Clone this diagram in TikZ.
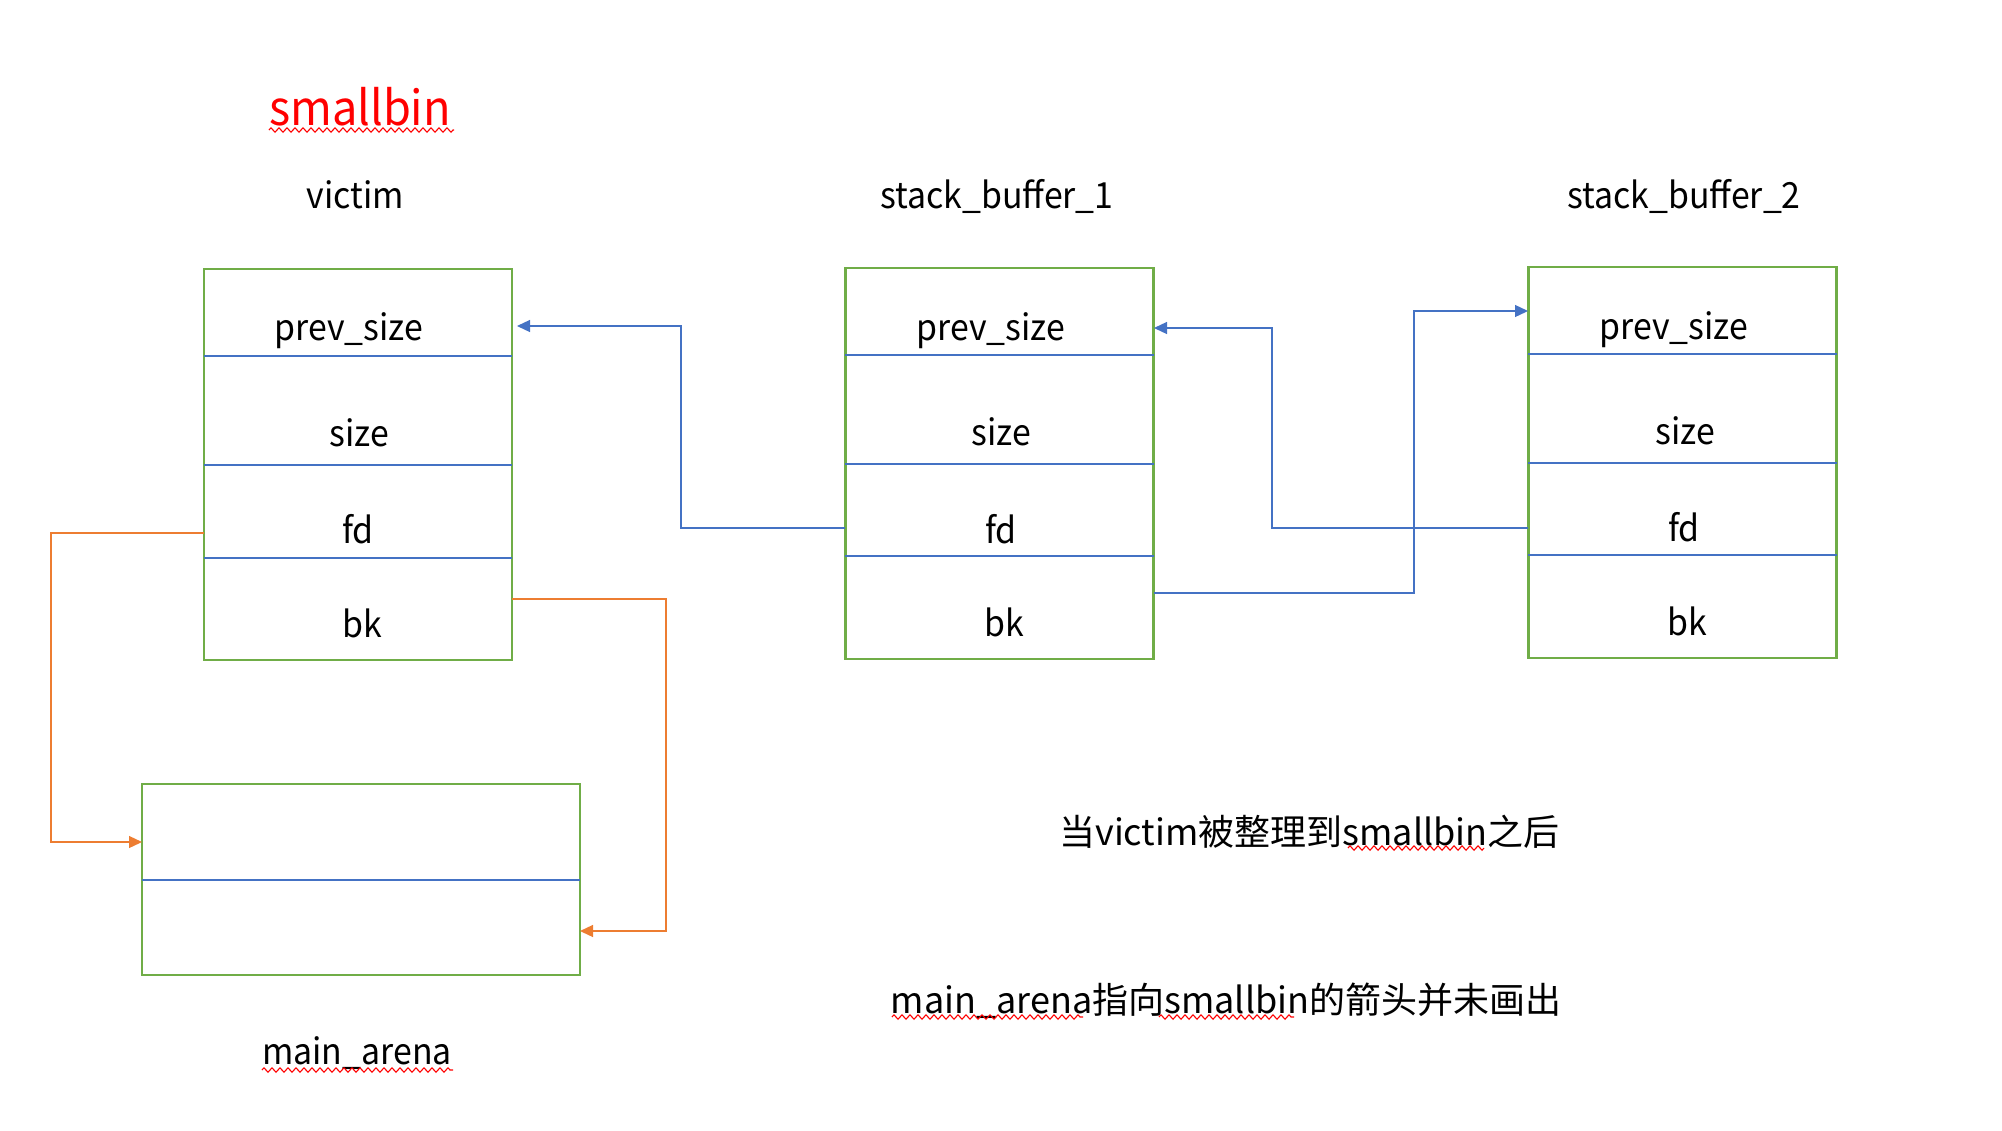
\documentclass[tikz,border=0pt]{standalone}
\usepackage{fontspec}
\setmainfont{Noto Sans CJK SC}
\newfontfamily\lblfont[FakeStretch=0.94]{Noto Sans CJK SC}
\usetikzlibrary{arrows.meta,decorations.pathmorphing}
\definecolor{boxgreen}{HTML}{70AD47}
\definecolor{lineblue}{HTML}{4472C4}
\definecolor{lineorange}{HTML}{ED7D31}
\tikzset{
  chunk/.style={draw=boxgreen, line width=2.5pt, inner sep=0pt, minimum width=308pt, minimum height=391pt},
  divider/.style={draw=lineblue, line width=1.3pt},
  field/.style={font=\lblfont\fontsize{36}{40}\selectfont, inner sep=0pt, anchor=base},
  note/.style={font=\fontsize{36}{40}\selectfont, inner sep=0pt, anchor=base},
  bluelink/.style={draw=lineblue, line width=1.3pt, -{Triangle[length=13pt,width=12pt]}},
  orangelink/.style={draw=lineorange, line width=1.3pt, -{Triangle[length=13pt,width=12pt]}},
  spell/.style={draw=red, line width=1.1pt, decorate, decoration={zigzag, amplitude=2.2pt, segment length=8pt}},
}
\begin{document}
\begin{tikzpicture}[x=1pt,y=-1pt]
\useasboundingbox (0,0) rectangle (2002,1130);

% titles
\node[field, text=red, font=\lblfont\fontsize{48}{54}\selectfont] (title) at (360,125) {smallbin};
\node[field] (tv) at (355.5,208) {victim};
\node[field] (ts1) at (997,208) {stack\_buffer\_1};
\node[field] (ts2) at (1684,208) {stack\_buffer\_2};

% chunks
\node[chunk] (v) at (358,464.5) {};
\node[chunk] (s1) at (999.5,463.5) {};
\node[chunk] (s2) at (1682.5,462.5) {};
\node[chunk, minimum width=438pt, minimum height=191pt] (m) at (361,879.5) {};

% dividers
\draw[divider] (204,356) -- (512,356);
\draw[divider] (204,465) -- (512,465);
\draw[divider] (204,558) -- (512,558);
\draw[divider] (845,355) -- (1154,355);
\draw[divider] (845,464) -- (1154,464);
\draw[divider] (845,556) -- (1154,556);
\draw[divider] (1528,354) -- (1837,354);
\draw[divider] (1528,463) -- (1837,463);
\draw[divider] (1528,555) -- (1837,555);
\draw[divider] (142,880) -- (580,880);

% fields
\node[field] (vprevt) at (349,340) {prev\_size};
\node[field] (vsize) at (359,446) {size};
\node[field] (vfdt) at (358,543) {fd};
\node[field] (vbkt) at (362,637) {bk};
\node[field] (s1prevt) at (991,340) {prev\_size};
\node[field] (s1size) at (1001.5,445) {size};
\node[field] (s1fdt) at (1001,543) {fd};
\node[field] (s1bkt) at (1004,636) {bk};
\node[field] (s2prevt) at (1674,339) {prev\_size};
\node[field] (s2size) at (1685,444) {size};
\node[field] (s2fdt) at (1684,541) {fd};
\node[field] (s2bkt) at (1687,635) {bk};

\node[field] (ma) at (357,1064) {main\_arena};
\node[note] (note1) at (1309.5,845) {当victim被整理到smallbin之后};
\node[note] (note2) at (1226,1013) {main\_arena指向smallbin的箭头并未画出};

% attachment points
\coordinate (vprev) at (517,326);
\coordinate (vfd) at (204,533);
\coordinate (vbk) at (512,599);
\coordinate (s1prev) at (1154,328);
\coordinate (s1fd) at (845,528);
\coordinate (s1bk) at (1154,593);
\coordinate (s2prev) at (1528,311);
\coordinate (s2fd) at (1528,528);
\coordinate (mtop) at (142,842);
\coordinate (mbot) at (580,931);

% connectors
\draw[bluelink] (s1fd) -- ++(-164,0) |- (vprev);
\draw[bluelink] (s2fd) -- ++(-256,0) |- (s1prev);
\draw[bluelink] (s1bk) -- ++(260,0) |- (s2prev);
\draw[orangelink] (vfd) -- ++(-153,0) |- (mtop);
\draw[orangelink] (vbk) -- ++(154,0) |- (mbot);

% spell-check underlines
\draw[spell] (269,130) -- (454,130);
\draw[spell] (262,1070) -- (453,1070);
\draw[spell] (1348,848) -- (1484,848);
\draw[spell] (892,1017) -- (1083,1017);
\draw[spell] (1159,1017) -- (1294,1017);
\end{tikzpicture}
\end{document}
